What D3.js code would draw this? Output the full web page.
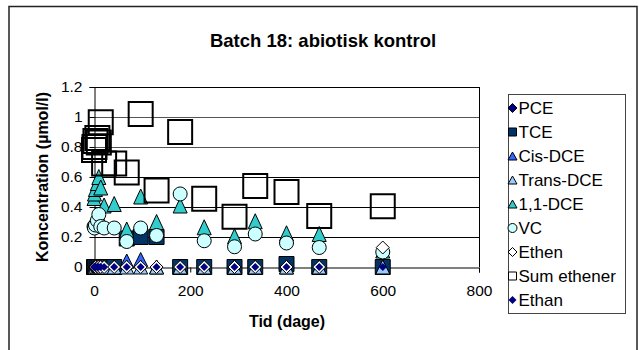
<!DOCTYPE html>
<html>
<head>
<meta charset="utf-8">
<script src="https://cdn.jsdelivr.net/npm/d3@7"></script>
<style>
  body { margin: 0; background: #fff; }
  text { font-family: "Liberation Sans", Arial, sans-serif; }
</style>
</head>
<body>
<div id="chart"></div>
<script>
// Data (time in days, concentration in umol/l)
const days        = [0, 1, 3, 7, 10, 14, 21, 42, 68, 97, 130, 179, 229, 292, 335, 400, 468, 600]
const pce         = [0, 0, 0, 0, 0, 0, 0, 0, 0, 0, 0, 0, 0, 0, 0, 0, 0, 0]
const tce         = [0, 0, 0, 0, 0, 0, 0, 0, 0.19, 0.2, 0.2, 0, 0, 0, 0, 0.02, 0, 0]
const cisDce      = [0, 0, 0, 0, 0, 0, 0, 0, 0.04, 0.05, 0, 0, 0, 0, 0, 0, 0, 0]
const transDce    = [0, 0, 0, 0, 0, 0, 0, 0, 0, 0, 0, 0, 0, 0, 0, 0, 0, 0]
const dce11       = [0.46, 0.49, 0.52, 0.56, 0.6, 0.53, 0.41, 0.42, 0.25, 0.47, 0.3, 0.41, 0.265, 0.205, 0.305, 0.225, 0.22, 0.11]
const vc          = [0.27, 0.26, 0.28, 0.31, 0.35, 0.27, 0.26, 0.26, 0.17, 0.26, 0.21, 0.487, 0.175, 0.135, 0.22, 0.16, 0.13, 0.1]
const ethen       = [0, 0, 0, 0, 0, 0, 0, 0, 0, 0, 0, 0, 0, 0, 0, 0, 0, 0.13]
const sumEthener  = [0.78, 0.8, 0.84, 0.86, 0.83, 0.965, 0.69, 0.69, 0.63, 1.02, 0.51, 0.9, 0.455, 0.335, 0.54, 0.5, 0.34, 0.405]
const ethan       = [0, 0, 0, 0, 0, 0, 0, 0, 0, 0, 0, 0, 0, 0, 0, 0, 0, 0]

const xTicks = [0, 200, 400, 600, 800]
const yTicks = [0, 0.2, 0.4, 0.6, 0.8, 1, 1.2]

const titleText = "Batch 18: abiotisk kontrol"
const xTitle = "Tid (dage)"
const yTitle = "Koncentration (\u00b5mol/l)"

// marker shapes, path centred on 0,0
function diamond(w) { const h = w / 2; return `M0,${-h}L${h},0L0,${h}L${-h},0Z` }
function square(w) { const h = w / 2; return `M${-h},${-h}H${h}V${h}H${-h}Z` }
function triangle(w, ht) { const a = w / 2, b = ht / 2; return `M0,${-b}L${a},${b}L${-a},${b}Z` }
function circle(r) { return `M${r},0A${r},${r} 0 1,1 ${-r},0A${r},${r} 0 1,1 ${r},0Z` }

const series = [
    {name: "PCE",          values: pce,        shape: diamond(12),      legend: diamond(9),    fill: "#000080", stroke: "#000"},
    {name: "TCE",          values: tce,        shape: square(15),       legend: square(8),     fill: "#003366", stroke: "#000"},
    {name: "Cis-DCE",      values: cisDce,     shape: triangle(14, 14), legend: triangle(9, 8), fill: "#3366ff", stroke: "#000"},
    {name: "Trans-DCE",    values: transDce,   shape: triangle(14, 14), legend: triangle(9, 8), fill: "#99ccff", stroke: "#000"},
    {name: "1,1-DCE",      values: dce11,      shape: triangle(14, 15), legend: triangle(9, 8), fill: "#33cccc", stroke: "#000"},
    {name: "VC",           values: vc,         shape: circle(7),        legend: circle(4.5),   fill: "#ccffff", stroke: "#000"},
    {name: "Ethen",        values: ethen,      shape: diamond(13),      legend: diamond(9),    fill: "#fff",    stroke: "#000"},
    {name: "Sum ethener",  values: sumEthener, shape: square(24),       legend: square(8),     fill: "none",    stroke: "#000"},
    {name: "Ethan",        values: ethan,      shape: diamond(8),       legend: diamond(8),    fill: "#000080", stroke: "none"}
]

const WIDTH = 639
const HEIGHT = 350
const PLOT = {LEFT: 94, RIGHT: 479, TOP: 87, BOTTOM: 267}

const svg = d3.select("#chart").append("svg")
    .attr("width", WIDTH)
    .attr("height", HEIGHT)

// outer chart border
svg.append("rect")
    .attr("x", 9).attr("y", 6.5)
    .attr("width", 628).attr("height", 360)
    .attr("fill", "#fff")
    .attr("stroke", "#222")
    .attr("stroke-width", 1.5)

const xScale = d3.scaleLinear().domain([0, 800]).range([PLOT.LEFT, PLOT.RIGHT])
const yScale = d3.scaleLinear().domain([0, 1.2]).range([PLOT.BOTTOM, PLOT.TOP])

// gridlines
svg.append("g")
    .selectAll("line")
    .data(yTicks.filter(d => d > 0))
    .join("line")
    .attr("x1", PLOT.LEFT).attr("x2", PLOT.RIGHT)
    .attr("y1", d => Math.round(yScale(d)) + 0.5)
    .attr("y2", d => Math.round(yScale(d)) + 0.5)
    .attr("stroke", d => (d === 1 || d === 0.8) ? "#555" : "#000")

// right border of plot area
svg.append("line")
    .attr("x1", PLOT.RIGHT + 0.5).attr("x2", PLOT.RIGHT + 0.5)
    .attr("y1", PLOT.TOP).attr("y2", PLOT.BOTTOM)
    .attr("stroke", "#000")

// axes
const xAxis = svg.append("g")
    .attr("transform", `translate(0,${PLOT.BOTTOM + 0.5})`)
    .call(d3.axisBottom(xScale).tickValues(xTicks).tickSize(5).tickPadding(12).tickFormat(d3.format("d")))
const yAxis = svg.append("g")
    .attr("transform", `translate(${PLOT.LEFT + 0.5},0)`)
    .call(d3.axisLeft(yScale).tickValues(yTicks).tickSize(5).tickPadding(7).tickFormat(d => d3.format("")(+d.toFixed(1))))

for (const ax of [xAxis, yAxis]) {
    ax.select(".domain").attr("stroke", "#000")
    ax.selectAll(".tick line").attr("stroke", "#000")
    ax.selectAll(".tick text")
        .attr("fill", "#000")
        .style("font-size", "15.5px")
        .style("font-family", "'Liberation Sans', Arial, sans-serif")
}

// points, one group per series, in legend order so later series sit on top
const points = svg.append("g")
series.forEach(s => {
    points.append("g")
        .selectAll("path")
        .data(days.map((d, i) => ({day: d, value: s.values[i]})))
        .join("path")
        .attr("d", s.shape)
        .attr("transform", d => `translate(${xScale(d.day)},${yScale(d.value)})`)
        .attr("fill", s.fill)
        .attr("stroke", s.stroke)
        .attr("stroke-width", s.name === "Sum ethener" ? 2 : 1)
})

// titles
svg.append("text")
    .attr("x", 323).attr("y", 47)
    .attr("text-anchor", "middle")
    .style("font-size", "18.5px").style("font-weight", "bold")
    .text(titleText)

svg.append("text")
    .attr("x", 287).attr("y", 327)
    .attr("text-anchor", "middle")
    .style("font-size", "16px").style("font-weight", "bold")
    .text(xTitle)

svg.append("text")
    .attr("transform", "translate(48,177) rotate(-90)")
    .attr("text-anchor", "middle")
    .style("font-size", "16px").style("font-weight", "bold")
    .text(yTitle)

// legend
const legend = svg.append("g")
legend.append("rect")
    .attr("x", 508.5).attr("y", 94.5)
    .attr("width", 117).attr("height", 219)
    .attr("fill", "#fff")
    .attr("stroke", "#444")

const rows = legend.selectAll("g.row")
    .data(series)
    .join("g")
    .attr("class", "row")
    .attr("transform", (d, i) => `translate(512.5,${108 + i * 24})`)

rows.append("path")
    .attr("d", d => d.legend)
    .attr("fill", d => d.fill === "none" ? "#fff" : d.fill)
    .attr("stroke", d => d.stroke)
    .attr("stroke-width", 1)

rows.append("text")
    .attr("x", 6).attr("y", 6)
    .style("font-size", "17px")
    .text(d => d.name)
</script>
</body>
</html>
